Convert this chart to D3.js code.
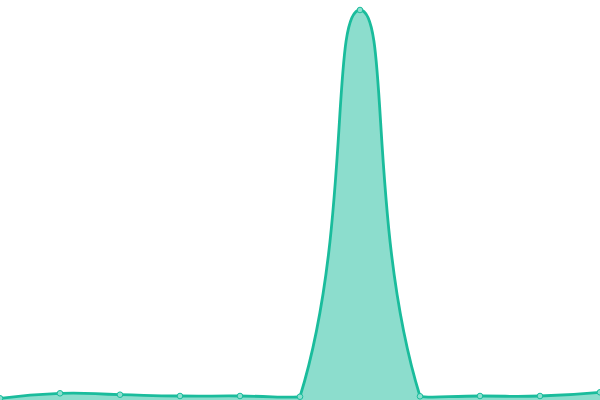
<!DOCTYPE html>
<html>
<head>
<meta charset="utf-8">
<script src="https://cdn.jsdelivr.net/npm/d3@7"></script>
<style>
  body { margin: 0; background: #fff; }
  svg { display: block; }
</style>
</head>
<body>
<svg class="chart"></svg>
<script>
const categories = ["0", "1", "2", "3", "4", "5", "6", "7", "8", "9", "10"]
const values = [1.7, 6.7, 5.3, 4, 4, 3.3, 390, 3.7, 4, 4, 7.7]

const width = 600
const height = 400
const lineColor = "#1abc9c"

// smooth bezier curve, control points kept inside the points' bounding box
function SmoothCurve(context) { this._context = context }
SmoothCurve.prototype = {
    areaStart: function() { this._line = 0 },
    areaEnd: function() { this._line = NaN },
    lineStart: function() { this._pts = [] },
    point: function(x, y) { this._pts.push([+x, +y]) },
    lineEnd: function() {
        const p = this._pts, n = p.length, ctx = this._context
        const smooth = 0.5
        if (n) {
            if (this._line) ctx.lineTo(p[0][0], p[0][1])
            else ctx.moveTo(p[0][0], p[0][1])
        }
        const xs = p.map(d => d[0]), ys = p.map(d => d[1])
        const minX = d3.min(xs), maxX = d3.max(xs), minY = d3.min(ys), maxY = d3.max(ys)
        const cps = []
        for (let i = 0; i < n; i++) {
            if (i === 0 || i === n - 1) { cps.push(p[i].slice()); continue }
            const prev = p[i - 1], cur = p[i], next = p[i + 1]
            const vx = (next[0] - prev[0]) * smooth, vy = (next[1] - prev[1]) * smooth
            let d0 = Math.hypot(cur[0] - prev[0], cur[1] - prev[1])
            let d1 = Math.hypot(cur[0] - next[0], cur[1] - next[1])
            const sum = d0 + d1
            if (sum) { d0 /= sum; d1 /= sum }
            const c0 = [cur[0] - vx * d0, cur[1] - vy * d0]
            const c1 = [cur[0] + vx * d1, cur[1] + vy * d1]
            ;[c0, c1].forEach(c => {
                c[0] = Math.max(minX, Math.min(maxX, c[0]))
                c[1] = Math.max(minY, Math.min(maxY, c[1]))
            })
            cps.push(c0, c1)
        }
        for (let i = 1; i < n; i++) {
            const a = cps[2 * (i - 1)], b = cps[2 * i - 1]
            const e = p[i]
            ctx.bezierCurveTo(a[0], a[1], b[0], b[1], e[0], e[1])
        }
        if (this._line || (this._line !== 0 && n === 1)) ctx.closePath()
        this._line = 1 - this._line
    }
}
const smoothCurve = context => new SmoothCurve(context)

const svg = d3.select(".chart")
    .attr("width", width)
    .attr("height", height)

const x = d3.scalePoint()
    .domain(categories)
    .range([0, width])

const y = d3.scaleLinear()
    .domain([0, 400])
    .range([height, 0])

const data = categories.map((c, i) => ({ name: c, value: values[i] }))

svg.append("path")
    .datum(data)
    .attr("fill", lineColor)
    .attr("fill-opacity", 0.5)
    .attr("d", d3.area()
        .x(d => x(d.name))
        .y0(y(0))
        .y1(d => y(d.value))
        .curve(smoothCurve))

svg.append("path")
    .datum(data)
    .attr("fill", "none")
    .attr("stroke", lineColor)
    .attr("stroke-width", 2.8)
    .attr("d", d3.line()
        .x(d => x(d.name))
        .y(d => y(d.value))
        .curve(smoothCurve))

svg.selectAll("circle")
    .data(data)
    .enter()
    .append("circle")
    .attr("cx", d => x(d.name))
    .attr("cy", d => y(d.value))
    .attr("r", 2.8)
    .attr("fill", "#8ce0cf")
    .attr("stroke", lineColor)
    .attr("stroke-width", 1)
</script>
</body>
</html>
